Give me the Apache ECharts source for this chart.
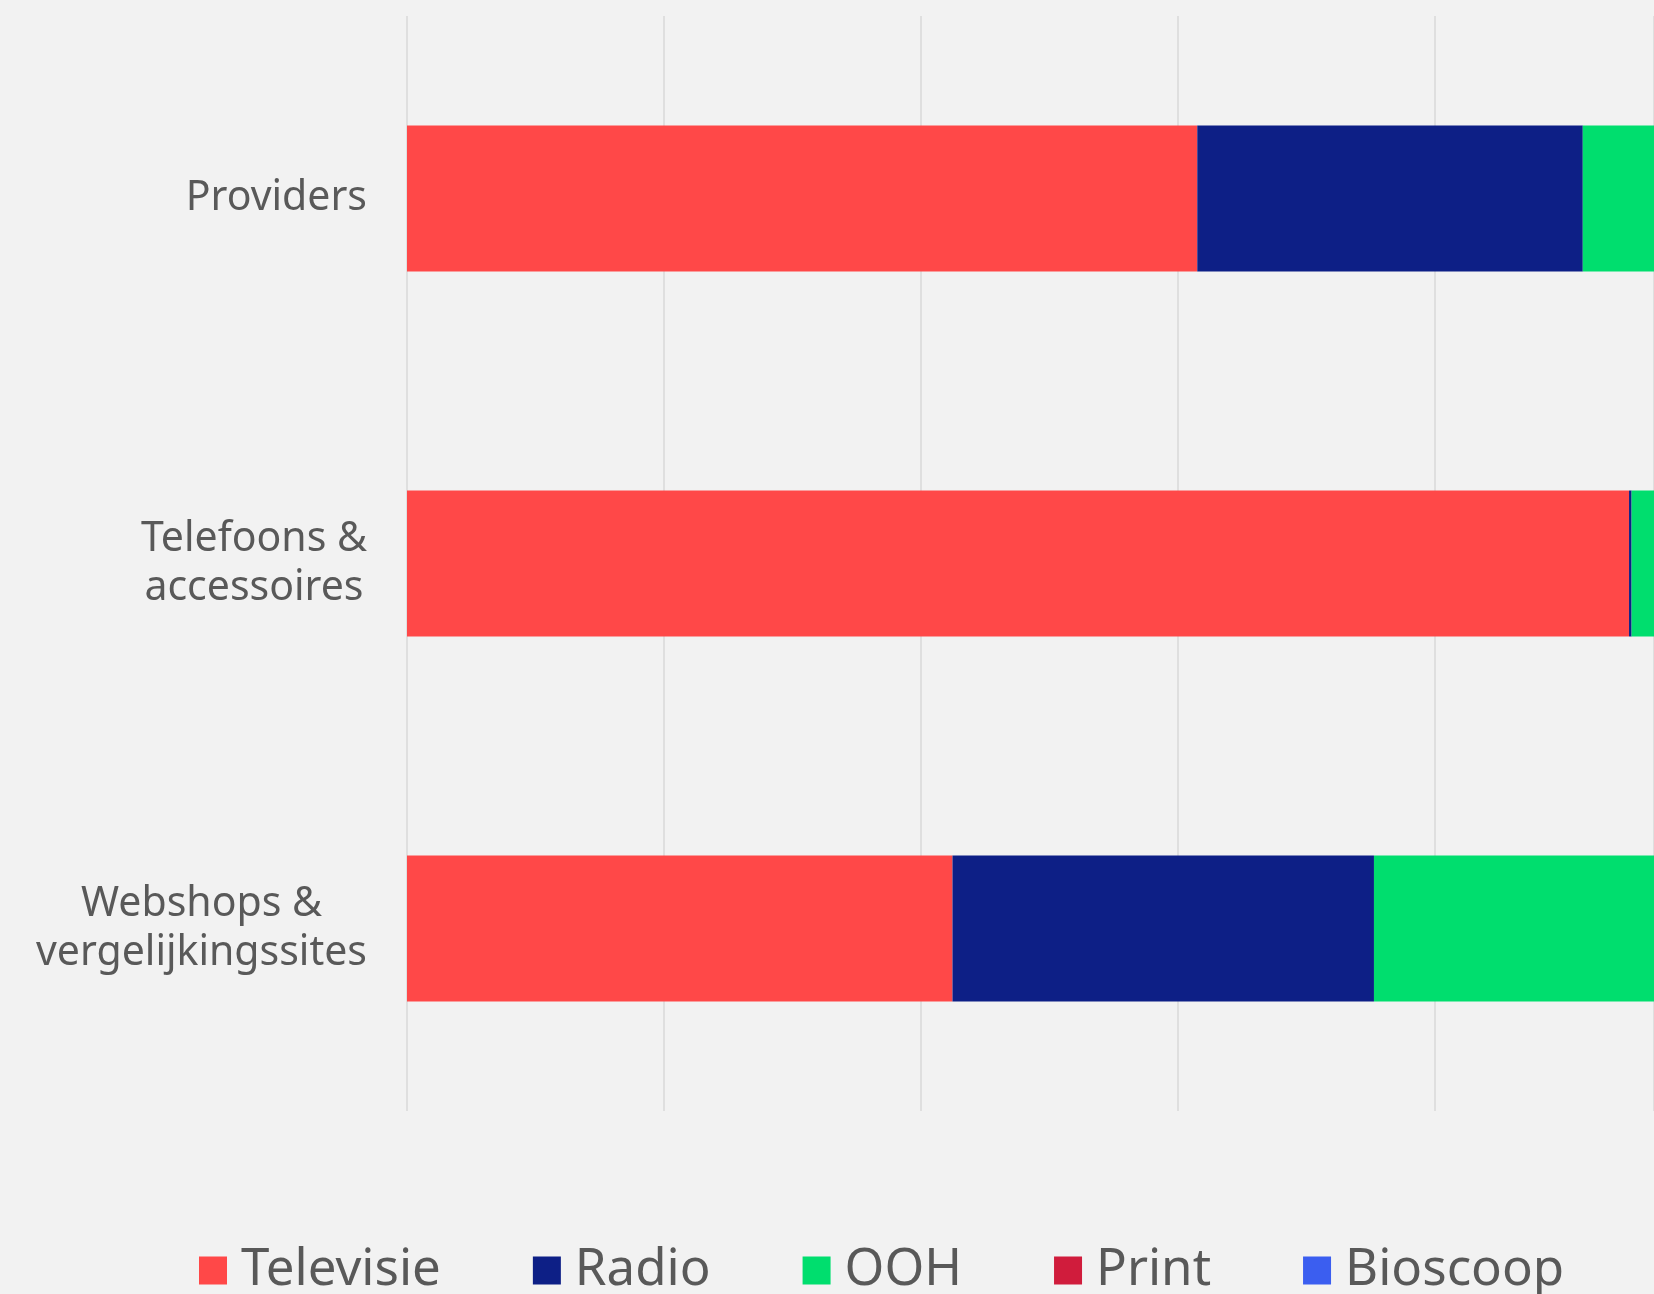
<!DOCTYPE html>
<html>
<head>
<meta charset="utf-8">
<script src="https://cdn.jsdelivr.net/npm/echarts@6/dist/echarts.min.js"></script>
<style>
    html, body { margin: 0; padding: 0; background: #f2f2f2; }
    #chart { width: 1654px; height: 1294px; }
</style>
</head>
<body>
<div id="chart"></div>
<script>
// aandeel per mediumtype (0-1), grafiek loopt rechts buiten beeld
const categories = ['Providers', 'Telefoons &\naccessoires', 'Webshops &\nvergelijkingssites'];
const seriesNames = ['Televisie', 'Radio', 'OOH', 'Print', 'Bioscoop'];
const televisie = [0.615, 0.951, 0.4245];
const radio = [0.300, 0.002, 0.328];
const ooh = [0.085, 0.018, 0.2475];
const print = [0, 0.020, 0];
const bioscoop = [0, 0.009, 0];
const colors = ['#ff4848', '#0d1f86', '#00de6e', '#d01c3c', '#3b5ef0'];

const values = [televisie, radio, ooh, print, bioscoop];
const textColor = '#595959';
const font = '"Noto Sans", sans-serif';

// zichtbaar deel van de as: gridlijnen om de 0.2 op 257px, canvas stopt bij 1654px
const plotLeft = 407;
const visibleMax = 0.2 * (1654 - plotLeft) / 257;

const chart = echarts.init(document.getElementById('chart'));
chart.setOption({
    backgroundColor: '#f2f2f2',
    animation: false,
    color: colors,
    grid: { left: plotLeft, top: 16, right: 0, height: 1095, containLabel: false },
    xAxis: {
        type: 'value',
        min: 0,
        max: visibleMax,
        interval: 0.2,
        axisLine: { show: false },
        axisTick: { show: false },
        axisLabel: { show: false },
        splitLine: { lineStyle: { color: '#d9d9d9', width: 1.5 } }
    },
    yAxis: {
        type: 'category',
        inverse: true,
        data: categories,
        axisLine: { show: false },
        axisTick: { show: false },
        axisLabel: {
            margin: 40,
            align: 'right',
            formatter: v => v.split('\n').map(l => '{c|' + l + '}').join('\n'),
            rich: {
                c: {
                    align: 'center',
                    color: textColor,
                    fontFamily: font,
                    fontSize: 41,
                    lineHeight: 49
                }
            }
        }
    },
    legend: {
        data: seriesNames,
        left: 194,
        top: 1240,
        icon: 'rect',
        itemWidth: 28,
        itemHeight: 28,
        itemGap: 92,
        textStyle: {
            color: textColor,
            fontFamily: font,
            fontSize: 51,
            padding: [0, 0, 0, 9]
        }
    },
    series: seriesNames.map((name, i) => ({
        name,
        type: 'bar',
        stack: 'total',
        barWidth: '40%',
        data: values[i]
    }))
});
</script>
</body>
</html>
